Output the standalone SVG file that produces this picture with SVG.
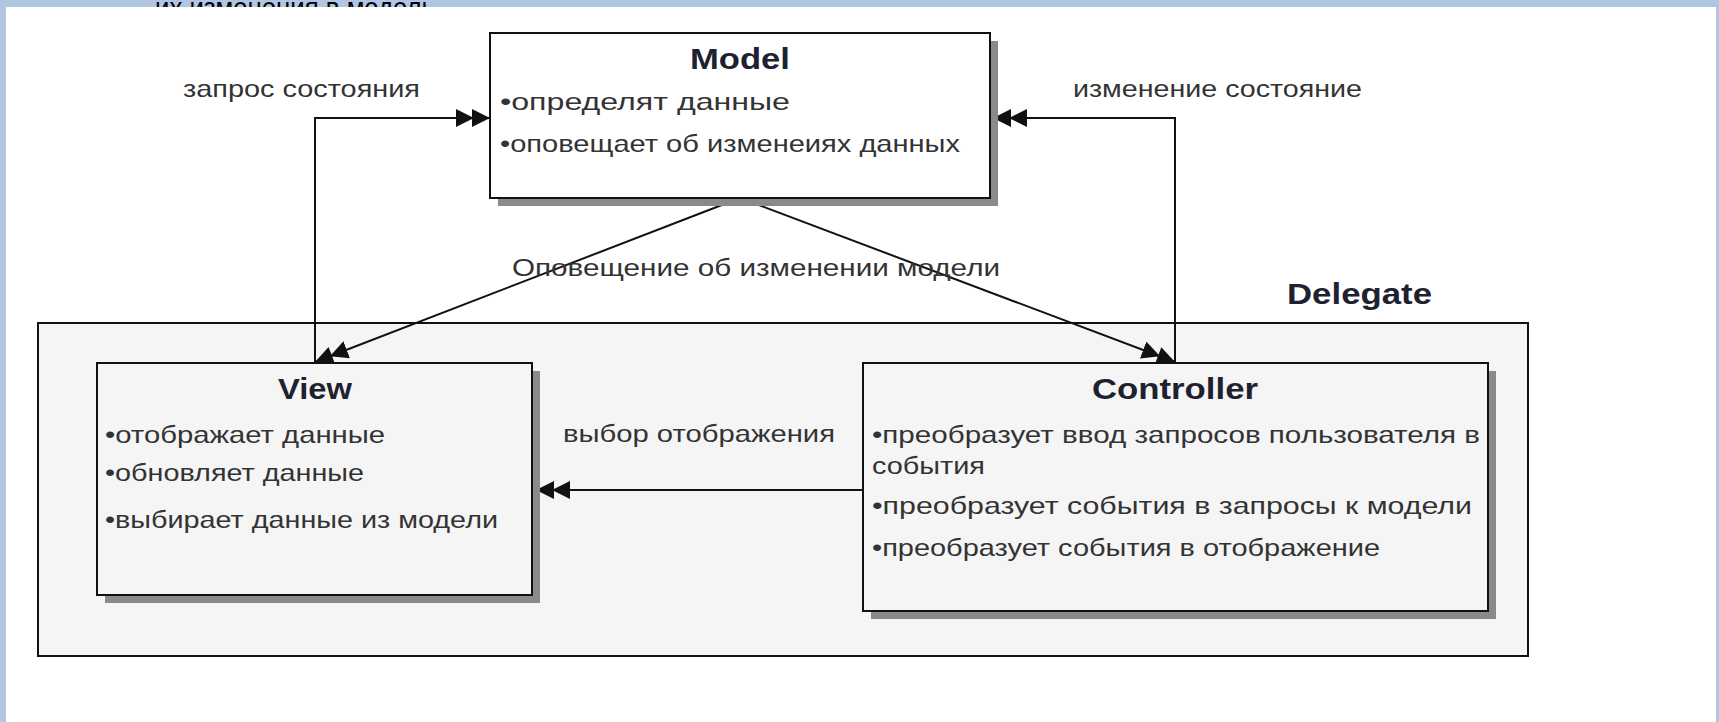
<svg xmlns="http://www.w3.org/2000/svg" width="1719" height="722" viewBox="0 0 1719 722">
<style>
.t{font-family:"Liberation Sans",Arial,sans-serif;font-size:24px;fill:#333}
.h{font-family:"Liberation Sans",Arial,sans-serif;font-size:29px;font-weight:bold;fill:#1e2230}
.box{stroke:#111;stroke-width:2}
.sh{fill:#8a8a8a}
.c{fill:none;stroke:#111;stroke-width:2}
</style>
<defs>
<marker id="dbl" markerUnits="userSpaceOnUse" viewBox="0 0 34 18" refX="34" refY="9" markerWidth="34" markerHeight="18" orient="auto">
<path d="M0,0 L18,9 L0,18 Z M16,0 L34,9 L16,18 Z" fill="#111"/>
</marker>
</defs>
<rect x="0" y="0" width="1719" height="722" fill="#b0c6e3"/>
<text x="155" y="18" font-family="Liberation Sans,Arial,sans-serif" font-size="29" fill="#000" textLength="280" lengthAdjust="spacingAndGlyphs">их изменения в модель</text>
<rect x="6" y="7" width="1710" height="715" fill="#fff"/>

<g id="delegate">
<rect x="38" y="323" width="1490" height="333" fill="#f5f5f5" class="box"/>
<text class="h" x="1287" y="304" textLength="145" lengthAdjust="spacingAndGlyphs">Delegate</text>
</g>

<g id="connectors">
<polyline class="c" points="315,362 315,118 490,118" marker-end="url(#dbl)"/>
<polyline class="c" points="1175,362 1175,118 993,118" marker-end="url(#dbl)"/>
<line class="c" x1="740" y1="198" x2="315" y2="362" marker-end="url(#dbl)"/>
<line class="c" x1="740" y1="198" x2="1175" y2="362" marker-end="url(#dbl)"/>
<line class="c" x1="863" y1="490" x2="536" y2="490" marker-end="url(#dbl)"/>
<text class="t" x="183" y="97" textLength="237" lengthAdjust="spacingAndGlyphs">запрос состояния</text>
<text class="t" x="1073" y="97" textLength="289" lengthAdjust="spacingAndGlyphs">изменение состояние</text>
<text class="t" x="512" y="276" textLength="488" lengthAdjust="spacingAndGlyphs">Оповещение об изменении модели</text>
<text class="t" x="563" y="442" textLength="272" lengthAdjust="spacingAndGlyphs">выбор отображения</text>
</g>

<g id="model">
<rect x="498" y="41" width="500" height="165" class="sh"/>
<rect x="490" y="33" width="500" height="165" fill="#fff" class="box"/>
<text class="h" x="690" y="69" textLength="100" lengthAdjust="spacingAndGlyphs">Model</text>
<text class="t" x="500" y="110" textLength="290" lengthAdjust="spacingAndGlyphs">•определят данные</text>
<text class="t" x="500" y="152" textLength="460" lengthAdjust="spacingAndGlyphs">•оповещает об изменеиях данных</text>
</g>

<g id="view">
<rect x="105" y="371" width="435" height="232" class="sh"/>
<rect x="97" y="363" width="435" height="232" fill="#f5f5f5" class="box"/>
<text class="h" x="278" y="399" textLength="74" lengthAdjust="spacingAndGlyphs">View</text>
<text class="t" x="105" y="443" textLength="280" lengthAdjust="spacingAndGlyphs">•отображает данные</text>
<text class="t" x="105" y="481" textLength="259" lengthAdjust="spacingAndGlyphs">•обновляет данные</text>
<text class="t" x="105" y="528" textLength="393" lengthAdjust="spacingAndGlyphs">•выбирает данные из модели</text>
</g>

<g id="controller">
<rect x="871" y="371" width="625" height="248" class="sh"/>
<rect x="863" y="363" width="625" height="248" fill="#f5f5f5" class="box"/>
<text class="h" x="1092" y="399" textLength="166" lengthAdjust="spacingAndGlyphs">Controller</text>
<text class="t" x="872" y="443" textLength="608" lengthAdjust="spacingAndGlyphs">•преобразует ввод запросов пользователя в</text>
<text class="t" x="872" y="474" textLength="113" lengthAdjust="spacingAndGlyphs">события</text>
<text class="t" x="872" y="514" textLength="600" lengthAdjust="spacingAndGlyphs">•преобразует события в запросы к модели</text>
<text class="t" x="872" y="556" textLength="508" lengthAdjust="spacingAndGlyphs">•преобразует события в отображение</text>
</g>
</svg>
